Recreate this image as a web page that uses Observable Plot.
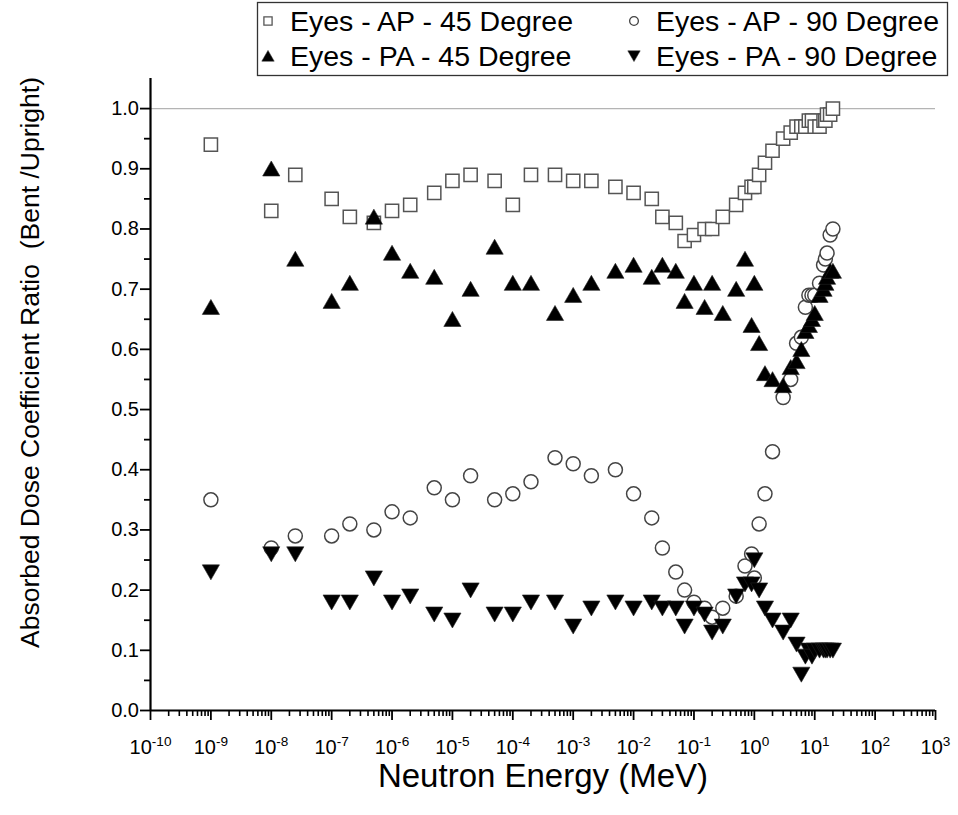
<!DOCTYPE html>
<html>
<head>
<meta charset="utf-8">
<script src="https://cdn.jsdelivr.net/npm/d3@7"></script>
<script src="https://cdn.jsdelivr.net/npm/@observablehq/plot@0.6"></script>
<style>
  html, body { margin: 0; padding: 0; background: #fff; }
  #wrap { position: relative; width: 958px; height: 815px; font-family: "Liberation Sans", Arial, sans-serif; }
  #legend { position: absolute; left: 0; top: 0; }
</style>
</head>
<body>
<div id="wrap"></div>
<script>
// Neutron energies (MeV)
const energy = [1e-9, 1e-8, 2.5e-8, 1e-7, 2e-7, 5e-7, 1e-6, 2e-6, 5e-6, 1e-5,
  2e-5, 5e-5, 1e-4, 2e-4, 5e-4, 1e-3, 2e-3, 5e-3, 1e-2, 2e-2,
  3e-2, 5e-2, 7e-2, 0.1, 0.15, 0.2, 0.3, 0.5, 0.7, 0.9,
  1, 1.2, 1.5, 2, 3, 4, 5, 6, 7, 8,
  9, 10, 12, 14, 15, 16, 18, 20];

// Eyes - AP - 45 Degree
const ap45 = [0.94, 0.83, 0.89, 0.85, 0.82, 0.81, 0.83, 0.84, 0.86, 0.88,
  0.89, 0.88, 0.84, 0.89, 0.89, 0.88, 0.88, 0.87, 0.86, 0.85,
  0.82, 0.81, 0.78, 0.79, 0.80, 0.80, 0.82, 0.84, 0.86, 0.87,
  0.87, 0.89, 0.91, 0.93, 0.95, 0.96, 0.97, 0.97, 0.97, 0.98,
  0.98, 0.97, 0.97, 0.98, 0.98, 0.99, 0.99, 1.00];

// Eyes - AP - 90 Degree
const ap90 = [0.35, 0.27, 0.29, 0.29, 0.31, 0.30, 0.33, 0.32, 0.37, 0.35,
  0.39, 0.35, 0.36, 0.38, 0.42, 0.41, 0.39, 0.40, 0.36, 0.32,
  0.27, 0.23, 0.20, 0.18, 0.17, 0.155, 0.17, 0.19, 0.24, 0.26,
  0.22, 0.31, 0.36, 0.43, 0.52, 0.55, 0.61, 0.62, 0.67, 0.69,
  0.69, 0.69, 0.71, 0.74, 0.75, 0.76, 0.79, 0.80];

// Eyes - PA - 45 Degree
const pa45 = [0.67, 0.90, 0.75, 0.68, 0.71, 0.82, 0.76, 0.73, 0.72, 0.65,
  0.70, 0.77, 0.71, 0.71, 0.66, 0.69, 0.71, 0.73, 0.74, 0.72,
  0.74, 0.73, 0.68, 0.71, 0.67, 0.71, 0.66, 0.70, 0.75, 0.64,
  0.71, 0.61, 0.56, 0.55, 0.54, 0.57, 0.58, 0.60, 0.63, 0.64,
  0.65, 0.66, 0.69, 0.70, 0.71, 0.72, 0.73, 0.73];

// Eyes - PA - 90 Degree
const pa90 = [0.23, 0.26, 0.26, 0.18, 0.18, 0.22, 0.18, 0.19, 0.16, 0.15,
  0.20, 0.16, 0.16, 0.18, 0.18, 0.14, 0.17, 0.18, 0.17, 0.18,
  0.17, 0.17, 0.14, 0.17, 0.16, 0.13, 0.14, 0.19, 0.21, 0.21,
  0.25, 0.20, 0.17, 0.15, 0.13, 0.15, 0.11, 0.06, 0.09, 0.10,
  0.09, 0.10, 0.10, 0.10, 0.10, 0.10, 0.10, 0.10];

const seriesNames = ["Eyes - AP - 45 Degree", "Eyes - AP - 90 Degree",
  "Eyes - PA - 45 Degree", "Eyes - PA - 90 Degree"];

const yMajor = [0, 0.1, 0.2, 0.3, 0.4, 0.5, 0.6, 0.7, 0.8, 0.9, 1.0];
const yMinor = [0.05, 0.15, 0.25, 0.35, 0.45, 0.55, 0.65, 0.75, 0.85, 0.95];
const xExponents = [-10, -9, -8, -7, -6, -5, -4, -3, -2, -1, 0, 1, 2, 3];
const xMinorMultipliers = [2, 3, 4, 5, 6, 7, 8, 9];

const yTitle = "Absorbed Dose Coefficient Ratio  (Bent /Upright)";
const xTitle = "Neutron Energy (MeV)";

// ---- derived tables ----
const rows = (vals) => energy.map((e, i) => ({e, v: vals[i]}));
const xMajor = xExponents.map(p => Math.pow(10, p));
const xMinor = xExponents.slice(0, -1).flatMap(p => xMinorMultipliers.map(m => m * Math.pow(10, p)));

const triUp = {draw(ctx) { ctx.moveTo(0, -7.8); ctx.lineTo(8.6, 7.2); ctx.lineTo(-8.6, 7.2); ctx.closePath(); }};
const triDown = {draw(ctx) { ctx.moveTo(0, 7.8); ctx.lineTo(8.6, -7.2); ctx.lineTo(-8.6, -7.2); ctx.closePath(); }};
const sq = {draw(ctx) { ctx.rect(-6.6, -6.6, 13.2, 13.2); }};

const font = '"Liberation Sans", Arial, sans-serif';

const chart = Plot.plot({
  width: 958,
  height: 815,
  marginLeft: 150,
  marginRight: 23,
  marginTop: 78,
  marginBottom: 105,
  style: {fontFamily: font, background: "white", color: "black"},
  x: {type: "log", domain: [1e-10, 1e3]},
  y: {domain: [0, 1.05]},
  marks: [
    Plot.ruleY([1], {stroke: "#b4b4b4", strokeWidth: 1.3}),
    Plot.axisY({ticks: yMinor, tickSize: 6, tickFormat: () => "", strokeWidth: 1.8, label: null}),
    Plot.axisY({ticks: yMajor, tickSize: 10, tickPadding: 1.5, tickFormat: d3.format(".1f"), fontSize: 20, strokeWidth: 1.8, label: null}),
    Plot.axisX({ticks: xMinor, tickSize: 6, tickFormat: () => "", strokeWidth: 1.6, label: null}),
    Plot.axisX({ticks: xMajor, tickSize: 10, tickPadding: 19, tickFormat: d => "10^" + Math.round(Math.log10(d)), fontSize: 20, strokeWidth: 1.8, label: null}),
    Plot.ruleX([1e-10], {strokeWidth: 2.2}),
    Plot.ruleY([0], {strokeWidth: 2.2}),
    Plot.dot(rows(ap45), {x: "e", y: "v", symbol: sq, r: 7, fill: "white", stroke: "#555", strokeWidth: 1.5}),
    Plot.dot(rows(ap90), {x: "e", y: "v", symbol: "circle", r: 7, fill: "white", stroke: "#444", strokeWidth: 1.5}),
    Plot.dot(rows(pa45), {x: "e", y: "v", symbol: triUp, r: 7, fill: "black", stroke: "#222", strokeWidth: 0.6}),
    Plot.dot(rows(pa90), {x: "e", y: "v", symbol: triDown, r: 7, fill: "black", stroke: "#222", strokeWidth: 0.6}),
    Plot.text([yTitle], {frameAnchor: "left", textAnchor: "middle", rotate: -90, dx: -120, dy: -32, fontSize: 26.5, fill: "black"}),
    Plot.text([xTitle], {frameAnchor: "bottom", dy: 76, fontSize: 33, fill: "black"})
  ]
});

// superscript exponents on the x tick labels
d3.select(chart).selectAll("text").each(function() {
  const t = this.textContent;
  const m = /^10\^(-?\d+)$/.exec(t);
  if (m) {
    const sel = d3.select(this);
    sel.text("10");
    sel.append("tspan").attr("dy", "-0.55em").attr("font-size", "0.68em").text(m[1]);
  }
});

const wrap = document.getElementById("wrap");
wrap.appendChild(chart);

// legend
const leg = d3.select(wrap).append("svg").attr("id", "legend").attr("width", 958).attr("height", 80)
  .style("font-family", font);
leg.append("rect").attr("x", 257.5).attr("y", 2.5).attr("width", 690).attr("height", 73)
  .attr("fill", "white").attr("stroke", "#333").attr("stroke-width", 1.3);
const items = [
  {name: seriesNames[0], sym: sq, fill: "white", stroke: "#555", sw: 1.3, cx: 268, cy: 21, scale: 0.62},
  {name: seriesNames[1], sym: d3.symbolCircle, fill: "white", stroke: "#444", sw: 1.3, cx: 634, cy: 21, scale: 1, size: 60},
  {name: seriesNames[2], sym: triUp, fill: "black", stroke: "#222", sw: 0.5, cx: 268, cy: 56, scale: 0.72},
  {name: seriesNames[3], sym: triDown, fill: "black", stroke: "#222", sw: 0.5, cx: 634, cy: 56, scale: 0.72}
];
for (const it of items) {
  const p = d3.path();
  it.sym.draw(p, it.size || 100);
  leg.append("path").attr("d", p.toString())
    .attr("transform", `translate(${it.cx},${it.cy}) scale(${it.scale})`)
    .attr("fill", it.fill).attr("stroke", it.stroke).attr("stroke-width", it.sw / it.scale);
  leg.append("text").attr("x", it.cx + 22).attr("y", it.cy + 10).attr("font-size", 28.5).attr("fill", "black").text(it.name);
}
</script>
</body>
</html>
